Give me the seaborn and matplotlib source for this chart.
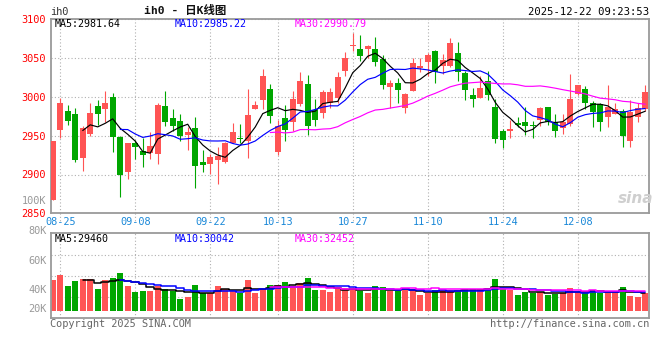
import numpy as np
import pandas as pd
import matplotlib
matplotlib.use("Agg")
import matplotlib.pyplot as plt
import seaborn as sns

# ---------------- data ----------------
opens = [2867.5, 2957.7, 2982.0, 2978.6, 2920.9, 2951.7, 2988.5, 2983.8, 3000.0, 2948.7,
         2903.0, 2940.6, 2930.8, 2927.4, 2926.0, 2988.5, 2972.2, 2969.2, 2951.3, 2960.3,
         2916.7, 2913.2, 2918.8, 2916.7, 2940.2, 2947.4, 2943.2, 2983.8, 2995.7, 3010.7,
         2928.6, 2972.2, 2968.0, 2990.6, 3016.2, 2982.9, 2979.5, 2991.5, 2999.1, 3032.9,
         3065.8, 3062.0, 3062.0, 3062.0, 3048.3, 3012.8, 3017.9, 2986.3, 3007.7, 3037.2,
         3044.4, 3059.4, 3040.0, 3039.5, 3057.2, 3031.2, 3002.8, 2999.1, 3020.5, 2987.2,
         2955.6, 2955.6, 2966.7, 2968.0, 2964.1, 2970.5, 2987.2, 2968.0, 2959.4, 2965.0,
         3003.4, 3009.8, 2992.7, 2990.6, 2973.5, 2978.6, 2982.0, 2943.6, 2974.4, 2985.0]
highs = [2943.0, 2999.0, 2989.7, 2985.5, 2962.8, 2991.5, 2996.2, 3007.7, 3004.7, 2949.0,
         2941.0, 2944.4, 2947.0, 2955.1, 2991.5, 3007.7, 2985.0, 2977.8, 2961.5, 2974.4,
         2931.6, 2926.5, 2935.9, 2942.3, 2966.7, 2965.0, 3010.7, 2994.4, 3035.5, 3016.2,
         2970.1, 2990.2, 3007.3, 3032.0, 3027.8, 2997.0, 3008.5, 3011.5, 3032.0, 3057.7,
         3082.0, 3080.0, 3067.5, 3077.0, 3053.4, 3022.2, 3024.8, 3005.1, 3050.0, 3050.0,
         3056.4, 3061.0, 3055.0, 3076.0, 3071.0, 3033.3, 3012.0, 3026.9, 3033.3, 2997.0,
         2958.5, 2970.1, 2973.5, 2987.2, 2969.2, 2987.2, 2987.5, 2978.6, 2978.6, 3029.9,
         3015.8, 3014.1, 2994.9, 2991.5, 3015.4, 2991.5, 2984.2, 2995.7, 2991.5, 3015.4]
lows = [2867.0, 2946.6, 2964.1, 2915.8, 2904.3, 2949.6, 2963.7, 2968.0, 2928.6, 2870.9,
        2894.4, 2919.7, 2909.4, 2919.7, 2913.2, 2962.0, 2956.4, 2942.7, 2932.1, 2882.5,
        2903.0, 2900.9, 2887.2, 2915.4, 2940.0, 2940.2, 2921.8, 2983.8, 2983.8, 2965.8,
        2925.2, 2943.6, 2956.0, 2988.0, 2950.9, 2962.4, 2972.2, 2985.9, 2991.5, 3026.5,
        3059.0, 3045.7, 3050.0, 3039.7, 3009.8, 2985.9, 2992.3, 2979.5, 3007.0, 3032.0,
        3027.5, 3017.5, 3030.0, 3038.0, 3021.0, 2995.5, 2986.5, 2998.3, 2995.7, 2940.2,
        2934.2, 2946.6, 2961.5, 2951.3, 2946.6, 2962.8, 2963.7, 2948.7, 2952.1, 2962.8,
        3002.0, 2984.2, 2961.5, 2956.4, 2960.7, 2977.8, 2935.0, 2935.0, 2968.0, 2982.0]
closes = [2942.7, 2991.9, 2969.2, 2919.2, 2960.3, 2979.5, 2978.6, 2992.3, 2947.9, 2899.1,
          2941.0, 2935.0, 2925.2, 2937.2, 2989.7, 2967.1, 2962.0, 2950.0, 2955.1, 2910.7,
          2912.4, 2923.1, 2924.4, 2940.2, 2954.7, 2945.3, 2976.5, 2989.3, 3026.5, 2975.6,
          2962.4, 2957.3, 2997.9, 3020.1, 2962.4, 2970.1, 3006.4, 3006.4, 3025.6, 3050.0,
          3067.5, 3052.6, 3066.2, 3044.9, 3015.8, 3017.9, 3009.4, 3003.4, 3043.6, 3039.3,
          3054.5, 3032.0, 3047.0, 3070.0, 3031.5, 3008.7, 2997.2, 3011.1, 3002.1, 2945.7,
          2944.4, 2958.5, 2963.7, 2962.0, 2962.0, 2986.3, 2968.0, 2956.4, 2968.0, 2997.9,
          3015.4, 2991.5, 2979.9, 2968.0, 2987.6, 2984.2, 2950.0, 2980.8, 2986.3, 3006.4]
volumes = [50200, 58300, 40500, 48600, 51800, 51800, 35600, 50200, 53500, 61600,
           40500, 30800, 32400, 32400, 40500, 35600, 32400, 19400, 22700, 42100,
           29600, 29600, 40500, 35600, 32400, 28700, 50200, 29600, 35600, 42100,
           42100, 47000, 40500, 45400, 53500, 34000, 34000, 30800, 36800, 37700,
           35600, 32400, 29600, 40500, 38900, 32400, 32400, 34000, 34000, 25900,
           29600, 34000, 34000, 34000, 31300, 35600, 35600, 35600, 37300, 51800,
           35600, 34000, 25900, 31300, 28700, 31300, 25900, 27500, 28700, 37300,
           31300, 28700, 34000, 28700, 32400, 32400, 38900, 24300, 22700, 28700]

tick_labels = ['08-25', '09-08', '09-22', '10-13', '10-27', '11-10', '11-24', '12-08']
price_ticks = [2850, 2900, 2950, 3000, 3050, 3100]
price_labels = ['2850', '2900', '2950', '3000', '3050', '3100']
vol_labels = ['80K', '60K', '40K', '20K']
main_legend = ['MA5:2981.64', 'MA10:2985.22', 'MA30:2990.79']
vol_legend = ['MA5:29460', 'MA10:30042', 'MA30:32452']
ma_windows = [5, 10, 30]
holidays = ['2025-10-01', '2025-10-02', '2025-10-03', '2025-10-06', '2025-10-07', '2025-10-08']

# ---------------- styling ----------------
RED = '#ff5454'
GREEN = '#00a600'
MA_COLORS = ['#000000', '#0000ff', '#ff00ff']
GRID = '#b0b0b0'
BORDER = '#9a9a9a'
DATE_BLUE = '#1a88d8'

days = pd.bdate_range('2025-08-22', '2025-12-19')
days = days[~days.isin(pd.to_datetime(holidays))]
date_str = list(days.strftime('%m-%d'))

df = pd.DataFrame({'i': np.arange(len(closes)), 'o': opens, 'h': highs,
                   'l': lows, 'c': closes, 'v': volumes})
for w in ma_windows:
    df[f'ma{w}'] = df['c'].rolling(w).mean()
    df[f'vma{w}'] = df['v'].rolling(w).mean()
tick_pos = [date_str.index(t) for t in tick_labels]

sns.set_style('white')
plt.rcParams['font.family'] = ['DejaVu Sans Mono', 'Noto Sans CJK SC']
plt.rcParams['font.size'] = 7.2

W, H = 660, 360
fig = plt.figure(figsize=(6.6, 3.6), dpi=100)


def rect(l, t, r, b):
    return [l / W, 1 - b / H, (r - l) / W, (b - t) / H]


def ftext(x, y, s, **kw):
    fig.text(x / W, 1 - y / H, s, va='center', **kw)


ax = fig.add_axes(rect(50.7, 19.3, 649, 213.3))
axv = fig.add_axes(rect(50.7, 233.3, 649, 318.3))

up = df['c'] >= df['o']
cols = np.where(up, RED, GREEN)

# ---- candles ----
ax.vlines(df['i'], df['l'], df['h'], colors=cols, linewidth=0.8, zorder=2)
body_bottom = np.minimum(df['o'], df['c'])
body_h = np.maximum((df['c'] - df['o']).abs(), 1.3)
ax.bar(df['i'], body_h, bottom=body_bottom, width=0.74, color=cols,
       linewidth=0, zorder=3)
for w, colr in zip(ma_windows, MA_COLORS):
    sns.lineplot(data=df, x='i', y=f'ma{w}', ax=ax, color=colr,
                 linewidth=0.85, zorder=4)

# ---- volume ----
axv.bar(df['i'], df['v'], width=0.75, color=cols, linewidth=0, zorder=2)
for w, colr in zip(ma_windows, MA_COLORS):
    sns.lineplot(data=df, x='i', y=f'vma{w}', ax=axv, color=colr,
                 linewidth=1.1, drawstyle='steps-mid', zorder=4)

# ---- axes cosmetics ----
xlim = (-0.27, len(closes) - 0.5)
ax.set_xlim(*xlim)
axv.set_xlim(*xlim)
ax.set_ylim(2850, 3100)
vlo, vhi = -11826, 125874
axv.set_ylim(vlo, vhi)

dotted = (0, (1, 2))
ax.set_yticks(price_ticks)
ax.set_yticklabels(price_labels, color='#ff0000', fontsize=7.4)
ax.set_xticks(tick_pos)
ax.set_xticklabels(tick_labels, color=DATE_BLUE, fontsize=7.4)
ax.tick_params(axis='both', length=0)
ax.tick_params(axis='y', pad=3.5)
ax.tick_params(axis='x', pad=3.0)
ax.grid(True, linestyle=dotted, color=GRID, linewidth=0.8)
for p in tick_pos:
    ax.plot([p, p], [0, -0.045], transform=ax.get_xaxis_transform(),
            clip_on=False, linestyle=dotted, color=GRID, linewidth=0.8)

quarters = [vlo + (vhi - vlo) * q for q in (0.25, 0.5, 0.75)]
axv.set_yticks(quarters)
axv.set_yticklabels([])
axv.set_xticks(tick_pos)
axv.set_xticklabels([])
axv.tick_params(axis='both', length=0)
axv.grid(True, linestyle=dotted, color=GRID, linewidth=0.8)

for a in (ax, axv):
    a.set_xlabel('')
    a.set_ylabel('')
    a.set_axisbelow(True)
    for s in a.spines.values():
        s.set_visible(True)
        s.set_color(BORDER)
        s.set_linewidth(1.3)

# ---- texts ----
ftext(50, 12, 'ih0', color='#333333', fontsize=7.4)
ftext(185, 10.5, 'ih0 - 日K线图', color='#111111', fontsize=8.2,
      ha='center', fontweight='bold')
ftext(649, 11.7, '2025-12-22 09:23:53', color='#000000', fontsize=7.6, ha='right')
for x, s, colr in zip([55, 175, 295], main_legend, MA_COLORS):
    ftext(x, 23.7, s, color=colr, fontsize=7.2, ha='left')
for x, s, colr in zip([55, 175, 295], vol_legend, MA_COLORS):
    ftext(x, 238.6, s, color=colr, fontsize=7.2, ha='left')
ftext(46.5, 200.7, '100K', color='#999999', fontsize=7.4, ha='right')
for y, s in zip([230.7, 260.7, 290.0, 309.3], vol_labels):
    ftext(46.5, y, s, color='#999999', fontsize=7.4, ha='right')
ftext(50, 324, 'Copyright 2025 SINA.COM', color='#666666', fontsize=7.4, ha='left')
ftext(649, 324, 'http://finance.sina.com.cn', color='#666666', fontsize=7.4, ha='right')
ftext(636, 198, 'sina', color='#cfcfcf', fontsize=11, ha='center',
      fontweight='bold', fontstyle='italic', family='DejaVu Sans')

fig.savefig('out.png', dpi=100, facecolor='white')
